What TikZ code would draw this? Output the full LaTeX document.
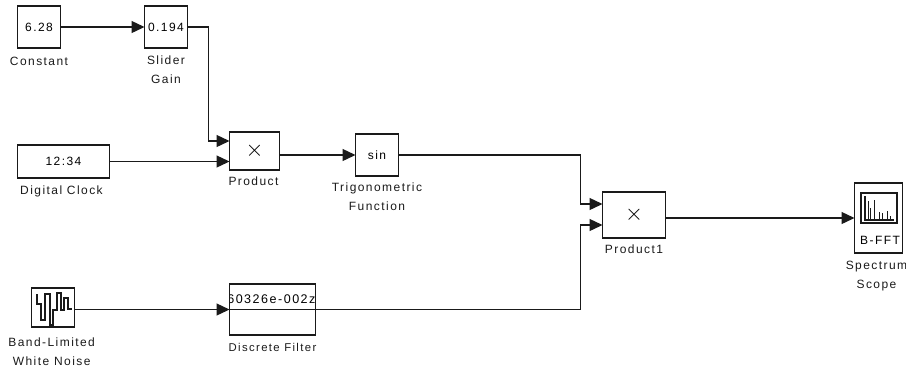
\documentclass[tikz,border=0pt]{standalone}
\usepackage{fontspec}
\usepackage{tikz}
\usetikzlibrary{arrows.meta,positioning}
\setmainfont[LetterSpace=12]{Liberation Sans}
\definecolor{wire}{HTML}{1A1A1A}
\newcommand{\timessign}{{\fontsize{17}{17}\selectfont\(\times\)}}

\begin{document}
\begin{tikzpicture}[x=.75pt,y=-.75pt,>={Triangle[length=9.75pt,width=9pt]},
    font=\fontsize{9}{14.25}\selectfont,
    block/.style={draw=wire,line width=.9pt,fill=white,inner sep=0pt,outer sep=0pt,align=center},
    square/.style={block,minimum width=32.25pt,minimum height=31.5pt},
    caption/.style={inner sep=0pt,outer sep=0pt,align=center,text=wire},
    signal/.style={draw=wire,line width=1pt}]
    \useasboundingbox (0,0) rectangle (906,365);

    \node[square] (constant) at (39,27) {6.28};
    \node[square,right=63pt of constant] (slider) {0.194};
    \node[block,minimum width=37.5pt,minimum height=28.5pt,
          below right=63pt and 31.5pt of slider] (product) {\timessign};
    \node[block,minimum width=69pt,minimum height=24.75pt,
          below=72.75pt of constant.south west,anchor=north west] (clock) {12:34};
    \node[square,right=57pt of product,yshift=-3pt] (sine) {sin};
    \node[block,minimum width=47.25pt,minimum height=34.5pt,
          below right=12pt and 153pt of sine] (producttwo) {\timessign};
    \node[block,minimum width=36pt,minimum height=52.5pt,
          right=141.75pt of producttwo,yshift=-2.25pt] (scope) {};
    \node[square,minimum height=29.25pt,
          below=82.5pt of clock.south west,anchor=north west,xshift=10.5pt] (noise) {};
    \node[block,minimum width=64.5pt,minimum height=38.25pt,
          below=85.5pt of product.south west,anchor=north west,
          path picture={
            \node[anchor=east,inner sep=0pt,yshift=8pt,font=\fontsize{9.4}{14.25}\selectfont]
              at (path picture bounding box.east) {60326e-002z};
            \node[yshift=-10.5pt] at (path picture bounding box.center) {1};
          }] (filter) {};

    % waveform and spectrum icons
    \draw[wire,line width=.8pt] (37,294) -- (37,304) -- (41,304) -- (41,320) -- (45,320) -- (45,294)
        -- (50,294) -- (50,325) -- (53,325) -- (53,310) -- (57,310) -- (57,293) -- (61,293)
        -- (61,310) -- (64,310) -- (64,298) -- (68,298) -- (68,309) -- (72,309);
    \draw[wire,line width=.9pt] (861,193) rectangle (897,223);
    \draw[wire,line width=.8pt] (865,196) -- (865,220) -- (894,220);
    \foreach \barx/\bary in {868/201,870/208,874/200,879/212,882/213,887/211,890/216}
      \draw[wire,line width=.7pt] (\barx,220) -- (\barx,\bary);
    \node[inner sep=0pt] (fft) at (880,240) {B-FFT};

    \node[caption,below=6.75pt of constant] (constantcap) {Constant};
    \node[caption,below=5.5pt of slider] (slidercap) {Slider\\Gain};
    \node[caption,below=6pt of clock,xshift=-1.5pt] (clockcap) {Digital Clock};
    \node[caption,below=5.25pt of product,xshift=-.75pt] (productcap) {Product};
    \node[caption,below=5.25pt of sine] (sinecap) {Trigonometric\\Function};
    \node[caption,below=5.25pt of producttwo] (producttwocap) {Product1};
    \node[caption,below=5.75pt of scope,xshift=-1.5pt] (scopecap) {Spectrum\\Scope};
    \node[caption,below=8pt of noise,xshift=-1pt] (noisecap) {Band-Limited\\White Noise};
    \node[caption,below=6pt of filter,font=\fontsize{8.5}{14.25}\selectfont] (filtercap) {Discrete Filter};

    \coordinate (prodtop) at ([yshift=7.5pt]product.west);
    \coordinate (sliderbend) at ([xshift=-15.75pt]prodtop);
    \coordinate (twotop) at ([yshift=8.25pt]producttwo.west);
    \coordinate (sinebend) at ([xshift=-16.5pt]twotop);
    \coordinate (twolow) at ([yshift=-7.5pt]producttwo.west);
    \coordinate (filterbend) at ([xshift=-16.5pt]twolow);

    \draw[signal,->] (constant)--(slider);
    \draw[signal,->] (slider.east)-|(sliderbend)--(prodtop);
    \draw[signal,->] (clock.east)--(clock.east-|product.west);
    \draw[signal,->] (product.east|-sine.west)--(sine.west);
    \draw[signal,->] (sine.east)-|(sinebend)--(twotop);
    \draw[signal,->] (producttwo.east|-scope.west)--(scope.west);
    \draw[signal,->] (noise.east|-filter.west)--(filter.west);
    \draw[signal] (filter.west)--(filter.east);
    \draw[signal,->] (filter.east)-|(filterbend)--(twolow);
\end{tikzpicture}
\end{document}
